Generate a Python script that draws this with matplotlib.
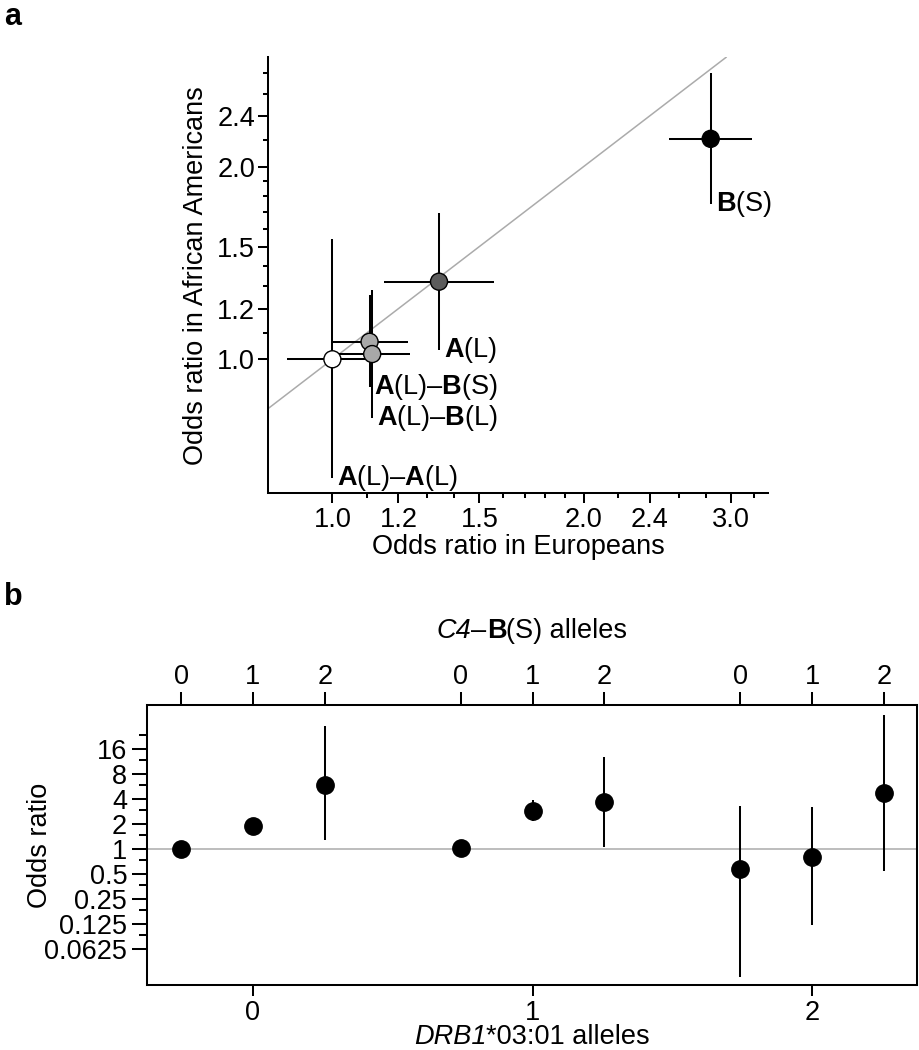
import matplotlib
matplotlib.use('Agg')
import matplotlib.pyplot as plt
import numpy as np
from matplotlib.ticker import FixedLocator, FixedFormatter, NullFormatter
from matplotlib.offsetbox import TextArea, HPacker, AnchoredOffsetbox

plt.rcParams['font.family'] = ['Liberation Sans', 'DejaVu Sans']
plt.rcParams['mathtext.fontset'] = 'custom'
plt.rcParams['mathtext.rm'] = 'Liberation Sans'
plt.rcParams['mathtext.it'] = 'Liberation Sans:italic'
plt.rcParams['mathtext.bf'] = 'Liberation Sans:bold'
FS = 19.5
LW = 1.45

# panel a: odds ratios, Europeans vs African Americans
haplo_labels = [r'$\mathbf{A}$(L)–$\mathbf{A}$(L)', r'$\mathbf{A}$(L)–$\mathbf{B}$(S)',
                r'$\mathbf{A}$(L)–$\mathbf{B}$(L)', r'$\mathbf{A}$(L)', r'$\mathbf{B}$(S)']
or_eur = [1.00, 1.108, 1.116, 1.342, 2.84]
eur_lo = [0.882, 0.996, 1.00, 1.154, 2.53]
eur_hi = [1.12, 1.233, 1.239, 1.564, 3.18]
or_afr = [1.00, 1.065, 1.019, 1.322, 2.21]
afr_lo = [0.652, 0.904, 0.809, 1.034, 1.75]
afr_hi = [1.54, 1.26, 1.283, 1.69, 2.80]
point_colors = ['white', '#a8a8a8', '#a8a8a8', '#5c5c5c', 'black']

a_major = [1.0, 1.2, 1.5, 2.0, 2.4, 3.0]
a_major_labels = ['1.0', '1.2', '1.5', '2.0', '2.4', '3.0']
a_minor = [1.1, 1.3, 1.4, 1.6, 1.7, 1.8, 1.9, 2.2, 2.6, 2.8, 3.2]

# panel b: odds ratio by DRB1*03:01 and C4-B(S) allele counts
drb1_alleles = [0, 0, 0, 1, 1, 1, 2, 2, 2]
c4bs_alleles = [0, 1, 2, 0, 1, 2, 0, 1, 2]
or_b = [1.0, 1.91, 5.9, 1.05, 2.92, 3.74, 0.574, 0.814, 4.8]
lo_b = [0.95, 1.80, 1.29, 1.0, 2.21, 1.06, 0.0293, 0.1225, 0.552]
hi_b = [1.05, 2.02, 30.8, 1.10, 3.92, 12.8, 3.32, 3.2, 41.4]

b_major = [0.0625, 0.125, 0.25, 0.5, 1, 2, 4, 8, 16]
b_major_labels = ['0.0625', '0.125', '0.25', '0.5', '1', '2', '4', '8', '16']
b_minor = [0.09375, 0.1875, 0.375, 0.75, 1.5, 3, 6, 12, 24]

fig = plt.figure(figsize=(9.19, 10.5), dpi=100)

# ---------------- panel a ----------------
ax = fig.add_axes([0.2920, 0.5302, 0.5441, 0.4152])
ax.set_xscale('log')
ax.set_yscale('log')
ax.set_xlim(0.838, 3.33)
ax.set_ylim(0.6175, 2.963)

ax.axline((1, 1), (2, 2), color='#ababab', lw=1.1, zorder=1)

x = np.array(or_eur)
y = np.array(or_afr)
ax.errorbar(x, y, xerr=[x - np.array(eur_lo), np.array(eur_hi) - x],
            yerr=[y - np.array(afr_lo), np.array(afr_hi) - y],
            fmt='none', ecolor='black', elinewidth=LW, capsize=0, zorder=2)
ax.scatter(x, y, s=150, c=point_colors, edgecolors='black', linewidths=1.0, zorder=3)

for lab, xi, lo in zip(haplo_labels, or_eur, afr_lo):
    ax.annotate(lab, (xi, lo), xytext=(3.5, 0), textcoords='offset points',
                ha='left', va='center', fontsize=FS)

for side in ['top', 'right']:
    ax.spines[side].set_visible(False)
for side in ['left', 'bottom']:
    ax.spines[side].set_linewidth(LW)

for axis in [ax.xaxis, ax.yaxis]:
    axis.set_major_locator(FixedLocator(a_major))
    axis.set_major_formatter(FixedFormatter(a_major_labels))
    axis.set_minor_locator(FixedLocator(a_minor))
    axis.set_minor_formatter(NullFormatter())
ax.tick_params(which='major', length=7.2, width=LW, labelsize=FS, pad=2.5)
ax.tick_params(which='minor', length=3.8, width=LW)

ax.set_xlabel('Odds ratio in Europeans', fontsize=FS, va='center')
ax.xaxis.set_label_coords(0.5, -0.123)
ax.set_ylabel('Odds ratio in African Americans', fontsize=FS, va='center')
ax.yaxis.set_label_coords(-0.1446, 0.5)

# ---------------- panel b ----------------
bx = fig.add_axes([0.1603, 0.0619, 0.8372, 0.2667])
bx.set_yscale('log', base=2)
bx.set_xlim(-0.378, 2.374)
bx.set_ylim(0.0233, 54.6)

pos = np.array(drb1_alleles) + (np.array(c4bs_alleles) - 1) * 0.257
yb = np.array(or_b)
bx.axhline(1, color='#ababab', lw=1.1, zorder=1)
bx.errorbar(pos, yb, yerr=[yb - np.array(lo_b), np.array(hi_b) - yb],
            fmt='o', color='black', ms=12.5, elinewidth=LW, capsize=0, zorder=3)

bx.yaxis.set_major_locator(FixedLocator(b_major))
bx.yaxis.set_major_formatter(FixedFormatter(b_major_labels))
bx.yaxis.set_minor_locator(FixedLocator(b_minor))
bx.yaxis.set_minor_formatter(NullFormatter())
bx.set_xticks([0, 1, 2])
bx.set_xticklabels(['0', '1', '2'])
bx.tick_params(axis='y', which='major', length=11, width=LW, labelsize=FS, pad=3.5)
bx.tick_params(axis='y', which='minor', length=6, width=LW)
bx.tick_params(axis='x', length=8, width=LW, labelsize=FS, pad=2.5)
for sp in bx.spines.values():
    sp.set_linewidth(LW)

top = bx.twiny()
top.set_xlim(bx.get_xlim())
top.set_xticks(pos)
top.set_xticklabels([str(c) for c in c4bs_alleles])
top.tick_params(axis='x', length=9.3, width=LW, labelsize=FS, pad=1.5)
for sp in top.spines.values():
    sp.set_linewidth(LW)

bx.set_ylabel('Odds ratio', fontsize=FS, va='center')
bx.yaxis.set_label_coords(-0.1395, 0.5)


def styled_label(axes, parts, xy):
    boxes = [TextArea(t, textprops=dict(fontsize=FS, **p)) for t, p in parts]
    pack = HPacker(children=boxes, align='baseline', pad=0, sep=0)
    anc = AnchoredOffsetbox(loc='center', child=pack, pad=0, borderpad=0, frameon=False,
                            bbox_to_anchor=xy, bbox_transform=axes.transAxes)
    axes.add_artist(anc)


styled_label(bx, [('C4', dict(fontstyle='italic')), ('–', {}),
                  ('B', dict(fontweight='bold')), ('(S) alleles', {})], (0.5, 1.264))
styled_label(bx, [('DRB1', dict(fontstyle='italic')), ('*03:01 alleles', {})], (0.5, -0.186))

fig.text(0.004, 0.984, 'a', fontsize=22, fontweight='bold', ha='left', va='center')
fig.text(0.004, 0.431, 'b', fontsize=22, fontweight='bold', ha='left', va='center')

fig.savefig('out.png', dpi=100)
